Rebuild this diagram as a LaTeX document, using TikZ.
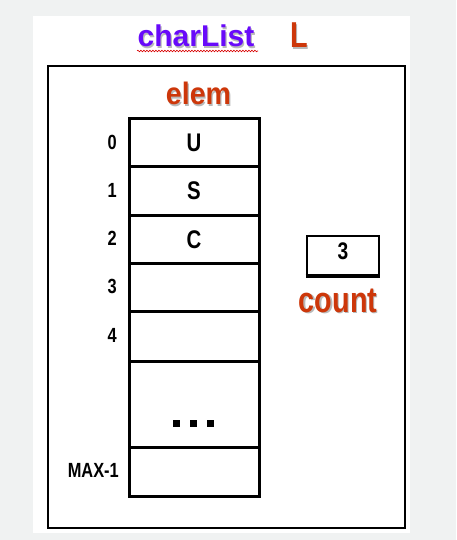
\documentclass[tikz,border=0pt]{standalone}
\usepackage{fontspec}
\setmainfont{Liberation Sans}
\newfontfamily\condfont[FakeStretch=0.8]{Liberation Sans Bold}
\newfontfamily\semicondfont[FakeStretch=0.92]{Liberation Sans Bold}
\usetikzlibrary{decorations.pathmorphing}
\definecolor{bggray}{RGB}{240,242,242}
\definecolor{titlepurple}{RGB}{104,10,250}
\definecolor{labelred}{RGB}{205,55,10}
\definecolor{shadowgray}{RGB}{185,185,185}
\tikzset{
  cellbox/.style={draw, line width=3pt, minimum width=130pt, inner sep=0pt, anchor=north},
  idx/.style={anchor=east, inner sep=0pt, font=\condfont\fontsize{20.5}{20.5}\selectfont},
  celltext/.style={inner sep=0pt, font=\condfont\fontsize{25.5}{25.5}\selectfont},
  redlabel/.style={inner sep=0pt, anchor=base, text=labelred},
  shadowlabel/.style={inner sep=0pt, anchor=base, text=shadowgray},
  dotsq/.style={fill=black, minimum size=7pt, inner sep=0pt}
}
\begin{document}
\begin{tikzpicture}[x=1pt,y=-1pt]
\useasboundingbox (0,0) rectangle (456,540);
\fill[bggray] (0,0) rectangle (456,540);
\fill[white] (33,16) rectangle (410,533);
% title
\node[shadowlabel, font=\fontsize{30}{30}\bfseries\selectfont] (titlesh) at (197.2,48.2) {charList};
\node[inner sep=0pt, anchor=base, text=titlepurple, font=\fontsize{30}{30}\bfseries\selectfont] (title) at (196,47) {charList};
\coordinate (sqa) at (137,51);
\coordinate (sqb) at (258,51);
\draw[red!85!black, line width=0.6pt, decorate, decoration={snake, segment length=3pt, amplitude=0.8pt}] (sqa) -- (sqb);
\node[shadowlabel, font=\condfont\fontsize{36}{36}\selectfont] (Lsh) at (300.2,49.2) {L};
\node[redlabel, font=\condfont\fontsize{36}{36}\selectfont] (Lname) at (299,48) {L};
% outer box
\node[draw, line width=2pt, minimum width=357pt, minimum height=462pt, inner sep=0pt, anchor=north west] (outer) at (47,65) {};
% elem label
\node[shadowlabel, font=\semicondfont\fontsize{31}{31}\selectfont] (elemsh) at (199.7,106.2) {elem};
\node[redlabel, font=\semicondfont\fontsize{31}{31}\selectfont] (elem) at (198.5,105) {elem};
% array cells
\node[cellbox, minimum height=48pt] (c0) at (194,117) {};
\node[cellbox, minimum height=49pt] (c1) at (194,165) {};
\node[cellbox, minimum height=48pt] (c2) at (194,214) {};
\node[cellbox, minimum height=48pt] (c3) at (194,262) {};
\node[cellbox, minimum height=50pt] (c4) at (194,310) {};
\node[cellbox, minimum height=86pt] (cdots) at (194,360) {};
\node[cellbox, minimum height=49pt] (cmax) at (194,446) {};
% cell contents
\node[celltext] (u) at (194,143) {U};
\node[celltext] (s) at (194,191) {S};
\node[celltext] (c) at (194,240) {C};
\node[dotsq] (d1) at (176,423) {};
\node[dotsq] (d2) at (193,423) {};
\node[dotsq] (d3) at (210,423) {};
% indices
\node[idx] (i0) at (117,142) {0};
\node[idx] (i1) at (117,190) {1};
\node[idx] (i2) at (117,238) {2};
\node[idx] (i3) at (117,286) {3};
\node[idx] (i4) at (117,335) {4};
\node[idx] (imax) at (119,470) {MAX-1};
% count
\node[draw, line width=2pt, minimum width=72pt, minimum height=39pt, inner sep=0pt] (countbox) at (342.5,255) {};
\draw[line width=4pt] (countbox.south west) -- (countbox.south east);
\node[celltext, font=\condfont\fontsize{24}{24}\selectfont] (three) at (343,251.5) {3};
\node[shadowlabel, font=\condfont\fontsize{36}{36}\selectfont] (countsh) at (339.2,313.2) {count};
\node[redlabel, font=\condfont\fontsize{36}{36}\selectfont] (count) at (338,312) {count};
\end{tikzpicture}
\end{document}
